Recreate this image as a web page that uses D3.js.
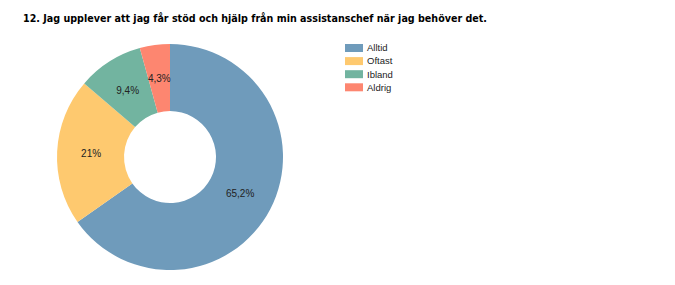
<!DOCTYPE html>
<html>
<head>
<meta charset="utf-8">
<script src="https://cdn.jsdelivr.net/npm/d3@7"></script>
<style>
  body { margin: 0; background: #fff; }
  svg { display: block; }
</style>
</head>
<body>
<div id="chart"></div>
<script>
// Data
let categories = ["Alltid", "Oftast", "Ibland", "Aldrig"];
let values = [65.2, 21, 9.4, 4.3];
let labels = ["65,2%", "21%", "9,4%", "4,3%"];
let colors = ["#6f9bbb", "#fec96f", "#72b4a0", "#fd8670"];
let title = "12. Jag upplever att jag får stöd och hjälp från min assistanschef när jag behöver det.";

let width = 675;
let height = 285;

let svg = d3.select("#chart").append("svg")
    .attr("width", width)
    .attr("height", height);

// Title
svg.append("text")
    .attr("x", 23)
    .attr("y", 22)
    .attr("textLength", 464)
    .attr("lengthAdjust", "spacingAndGlyphs")
    .style("font-family", "'DejaVu Sans', Verdana, sans-serif")
    .style("font-weight", "bold")
    .style("font-size", "11px")
    .style("fill", "#000")
    .text(title);

// Donut
let data = categories.map((c, i) => ({ name: c, value: values[i], label: labels[i], color: colors[i] }));

let pie = d3.pie().sort(null).value(d => d.value);
let arc = d3.arc().innerRadius(46).outerRadius(113);
let labelArc = d3.arc().innerRadius(79).outerRadius(79);

let g = svg.append("g").attr("transform", "translate(170,157)");

let slices = g.selectAll("g.slice")
    .data(pie(data))
    .join("g")
    .attr("class", "slice");

slices.append("path")
    .attr("d", arc)
    .style("fill", d => d.data.color);

slices.append("text")
    .attr("transform", d => `translate(${labelArc.centroid(d)})`)
    .attr("text-anchor", "middle")
    .attr("dy", "0.35em")
    .style("font-family", "'Liberation Sans', Arial, sans-serif")
    .style("font-size", "10px")
    .style("fill", "#222")
    .text(d => d.data.label);

// Legend
let legend = svg.append("g").attr("transform", "translate(345,44)");
let rows = legend.selectAll("g")
    .data(data)
    .join("g")
    .attr("transform", (d, i) => `translate(0,${i * 13.1})`);

rows.append("rect")
    .attr("width", 18)
    .attr("height", 8)
    .style("fill", d => d.color);

rows.append("text")
    .attr("x", 22)
    .attr("y", 4)
    .attr("dy", "0.35em")
    .style("font-family", "'Liberation Sans', Arial, sans-serif")
    .style("font-size", "9.5px")
    .style("fill", "#222")
    .text(d => d.name);
</script>
</body>
</html>
